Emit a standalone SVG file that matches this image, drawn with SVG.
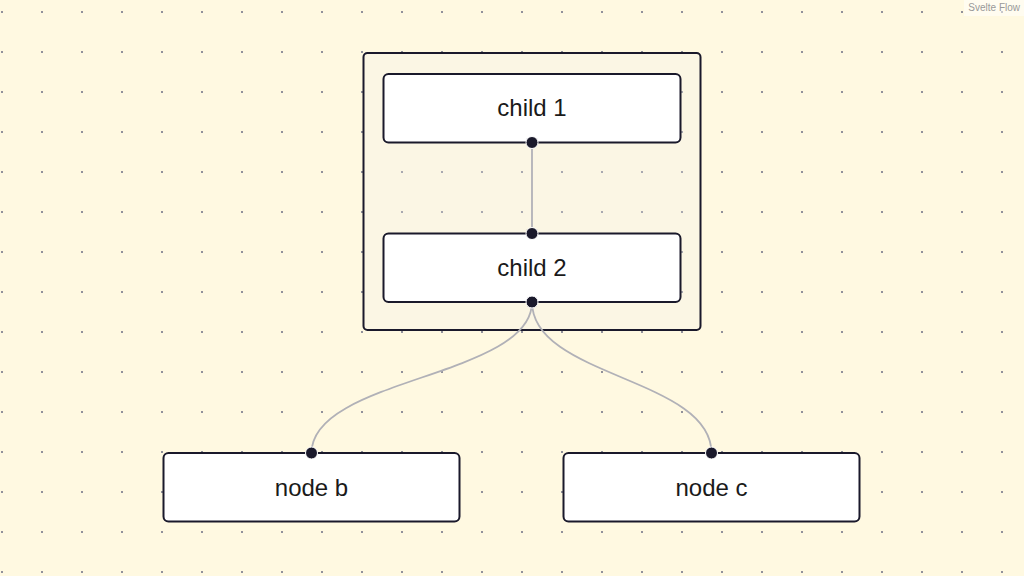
<svg xmlns="http://www.w3.org/2000/svg" width="1024" height="576" viewBox="0 0 1024 576">
  <defs>
    <pattern id="dots" x="0" y="0" width="40" height="40" patternUnits="userSpaceOnUse">
      <rect x="1" y="11" width="2" height="2" fill="#91919a"/>
    </pattern>
  </defs>
  <style>
    .node rect.box { fill: #ffffff; stroke: #1a192b; stroke-width: 2; }
    .group rect.box { fill: rgba(240,240,240,0.25); stroke: #1a192b; stroke-width: 2; }
    .label { font-family: "Liberation Sans", Arial, sans-serif; font-size: 24px; fill: #1a1a1a; text-anchor: middle; }
    .handle { fill: #1a192b; stroke: #ffffff; stroke-width: 1; }
    .edge { fill: none; stroke: #b1b1b7; stroke-width: 1.8; }
    .attr { font-family: "Liberation Sans", Arial, sans-serif; font-size: 10px; fill: #999999; text-anchor: end; }
  </style>
  <rect width="1024" height="576" fill="#fff9e1"/>
  <rect width="1024" height="576" fill="url(#dots)"/>

  <g id="group-1" class="group">
    <rect class="box" x="363.5" y="53" width="337" height="277" rx="4"/>
  </g>

  <g id="edges">
    <path class="edge" d="M532,142.5 C532,188 532,188 532,233.5"/>
    <path class="edge" d="M532,302 C532,377.5 311.5,377.5 311.5,453"/>
    <path class="edge" d="M532,302 C532,377.5 711.5,377.5 711.5,453"/>
  </g>

  <g id="child-1" class="node">
    <rect class="box" x="383.5" y="74" width="297" height="68.5" rx="5"/>
    <text class="label" x="532" y="116">child 1</text>
    <circle class="handle" cx="532" cy="142.5" r="6"/>
  </g>

  <g id="child-2" class="node">
    <rect class="box" x="383.5" y="233.5" width="297" height="68.5" rx="5"/>
    <text class="label" x="532" y="276">child 2</text>
    <circle class="handle" cx="532" cy="233.5" r="6"/>
    <circle class="handle" cx="532" cy="302" r="6"/>
  </g>

  <g id="node-b" class="node">
    <rect class="box" x="163.5" y="453" width="296" height="68.5" rx="5"/>
    <text class="label" x="311.5" y="495.5">node b</text>
    <circle class="handle" cx="311.5" cy="453" r="6"/>
  </g>

  <g id="node-c" class="node">
    <rect class="box" x="563.5" y="453" width="296" height="68.5" rx="5"/>
    <text class="label" x="711.5" y="495.5">node c</text>
    <circle class="handle" cx="711.5" cy="453" r="6"/>
  </g>

  <g id="attribution">
    <rect x="964" y="0" width="60" height="16" fill="rgba(255,255,255,0.5)"/>
    <text class="attr" x="1020" y="11">Svelte Flow</text>
  </g>
</svg>
